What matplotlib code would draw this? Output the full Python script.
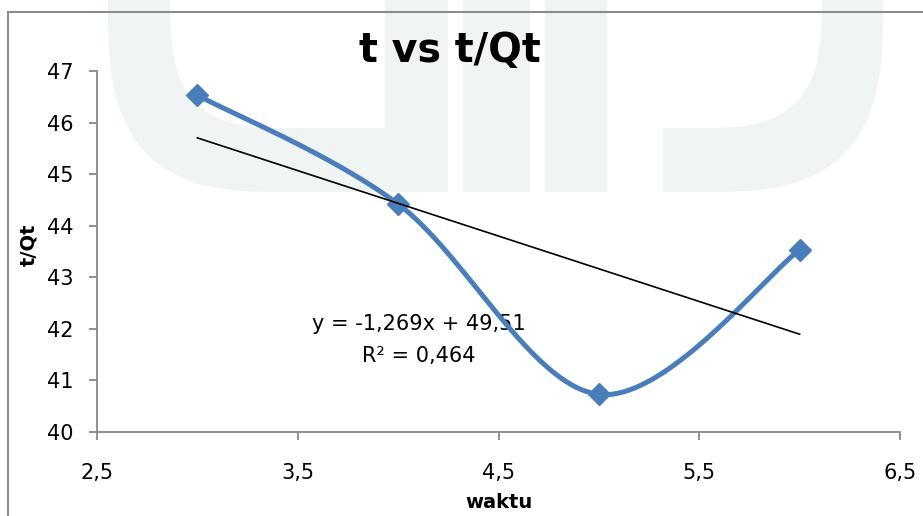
import numpy as np
import matplotlib
matplotlib.use("Agg")
import matplotlib.pyplot as plt
from matplotlib.patches import Polygon
from matplotlib.ticker import FuncFormatter

# Data
waktu = [3, 4, 5, 6]
t_qt = [46.53, 44.42, 40.73, 43.53]
slope = -1.269
intercept = 49.51
title = "t vs t/Qt"
xlabel = "waktu"
ylabel = "t/Qt"
eq_text = "y = -1,269x + 49,51\nR² = 0,464"
x_ticks = [2.5, 3.5, 4.5, 5.5, 6.5]
y_ticks = [40, 41, 42, 43, 44, 45, 46, 47]

plt.rcParams['font.family'] = ['DejaVu Sans']

W, H = 923, 516
fig = plt.figure(figsize=(W/100, H/100), dpi=100)

# ---- faint background watermark (decorative) ----
wm = '#f0f4f2'
def P(pts):
    return [(x / W, 1 - y / H) for x, y in pts]

def sarc(cx, cy, rx, ry, a0, a1, n=40, p=3.0):
    t = np.linspace(a0, a1, n)
    c, s = np.cos(t), np.sin(t)
    x = cx + rx * np.sign(c) * np.abs(c) ** (2 / p)
    y = cy + ry * np.sign(s) * np.abs(s) ** (2 / p)
    return list(zip(x, y))

u = [(108, 0)] + sarc(290, 0, 182, 192, np.pi, np.pi/2) + [(448, 192), (448, 0), (385, 0), (385, 128)] \
    + sarc(290, 0, 120, 128, np.pi/2, np.pi) + [(170, 0)]
j = [(663, 192)] + sarc(700, 0, 183, 192, np.pi/2, 0) + [(822, 0)] + sarc(700, 0, 122, 128, 0, np.pi/2) + [(663, 128)]
bars = [[(463, 0), (530, 0), (530, 192), (463, 192)], [(545, 0), (607, 0), (607, 192), (545, 192)]]
for shape in [u, j] + bars:
    fig.add_artist(Polygon(P(shape), closed=True, transform=fig.transFigure,
                           facecolor=wm, edgecolor='none', zorder=0))

ax = fig.add_axes([97/W, 1-432/H, (900-97)/W, (432-71)/H])
ax.patch.set_alpha(0)

# Excel-like smooth curve (Bezier through the points)
def smooth(xs, ys, n=80):
    Pt = np.column_stack([xs, ys]).astype(float)
    Pt = np.vstack([Pt[0], Pt, Pt[-1]])
    out = []
    for i in range(1, len(Pt) - 2):
        p0, p1, p2, p3 = Pt[i-1], Pt[i], Pt[i+1], Pt[i+2]
        t = np.linspace(0, 1, n)[:, None]
        c1 = p1 + (p2 - p0) / 6
        c2 = p2 - (p3 - p1) / 6
        b = ((1-t)**3)*p1 + 3*((1-t)**2)*t*c1 + 3*(1-t)*t**2*c2 + t**3*p2
        out.append(b)
    out = np.vstack(out)
    return out[:, 0], out[:, 1]

sx, sy = smooth(waktu, t_qt)
blue = '#4A7EBB'
ax.plot(sx, sy, color=blue, lw=3.6, solid_capstyle='round', zorder=3)
ax.plot(waktu, t_qt, linestyle='none', marker='D', ms=11.5, color=blue, zorder=4)

tx = np.array([min(waktu), max(waktu)])
ax.plot(tx, slope*tx + intercept, color='black', lw=1.2, zorder=5)

ax.set_xlim(x_ticks[0], x_ticks[-1])
ax.set_ylim(y_ticks[0], y_ticks[-1])
ax.set_xticks(x_ticks)
ax.set_yticks(y_ticks)
ax.xaxis.set_major_formatter(FuncFormatter(lambda v, p: f"{v:.1f}".replace('.', ',')))
ax.tick_params(direction='out', length=6, width=1.3, color='#888888', labelsize=15)
ax.tick_params(axis='y', pad=11)
ax.tick_params(axis='x', pad=16)
for s in ['top', 'right']:
    ax.spines[s].set_visible(False)
for s in ['left', 'bottom']:
    ax.spines[s].set_color('#888888')
    ax.spines[s].set_linewidth(1.3)

fig.text(450/W, 1-62/H, title, ha='center', va='baseline', fontsize=28.5, fontweight='bold')
fig.text(499/W, 1-502/H, xlabel, ha='center', va='center', fontsize=14, fontweight='bold')
fig.text(29/W, 1-245/H, ylabel, ha='center', va='center', rotation=90, fontsize=14, fontweight='bold')

ax.text(4.104, 41.79, eq_text, ha='center', va='center', fontsize=15, linespacing=1.75,
        multialignment='center', zorder=2)

# chart frame
fig.add_artist(plt.Line2D([8/W, 8/W], [0, 1-12/H], color='#8c8c8c', lw=1.5, transform=fig.transFigure))
fig.add_artist(plt.Line2D([8/W, 1], [1-12/H, 1-12/H], color='#8c8c8c', lw=1.5, transform=fig.transFigure))

fig.savefig('out.png', dpi=100)
